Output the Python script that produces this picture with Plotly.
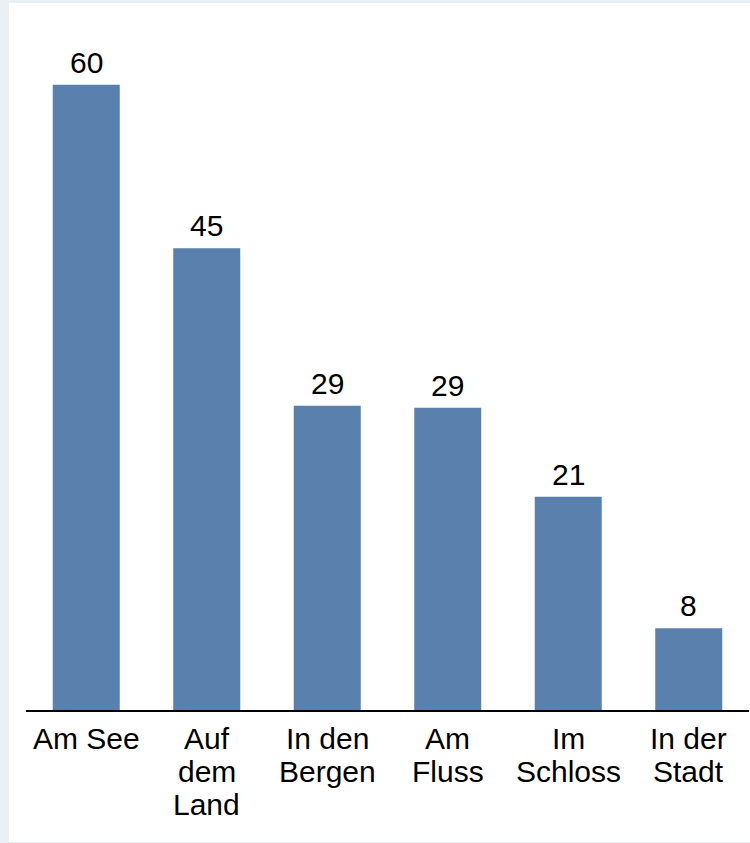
import plotly.graph_objects as go

categories = ["Am See", "Auf dem Land", "In den Bergen", "Am Fluss", "Im Schloss", "In der Stadt"]
values = [60.4, 44.6, 29.4, 29.2, 20.6, 7.9]
tick_lines = [["Am See"], ["Auf", "dem", "Land"], ["In den", "Bergen"], ["Am", "Fluss"],
              ["Im", "Schloss"], ["In der", "Stadt"]]

FONT = "Liberation Sans, Arial, sans-serif"
FS = 30
BAR = "#5a80ae"
BG = "#ebeff6"

fig = go.Figure(go.Bar(
    x=categories, y=values,
    marker=dict(color=BAR, line=dict(width=0)),
    cliponaxis=False, hoverinfo="skip",
))

annotations = []
for cat, v in zip(categories, values):
    annotations.append(dict(
        x=cat, y=v, xref="x", yref="y", text=f"{v:.0f}", showarrow=False,
        yanchor="bottom", xanchor="center", yshift=4,
        font=dict(family=FONT, size=FS, color="#000000"),
    ))
for cat, lines in zip(categories, tick_lines):
    for i, ln in enumerate(lines):
        annotations.append(dict(
            x=cat, y=0, xref="x", yref="y", text=ln, showarrow=False,
            yanchor="top", xanchor="center", yshift=-10 - 33 * i,
            font=dict(family=FONT, size=FS, color="#000000"),
        ))

L, R, T, B = 26, 1, 3, 133
W, H = 750, 843
pw, ph = W - L - R, H - T - B

fig.update_layout(
    width=W, height=H,
    margin=dict(l=L, r=R, t=T, b=B, pad=0),
    paper_bgcolor=BG, plot_bgcolor="white",
    bargap=0.444,
    showlegend=False,
    annotations=annotations,
    shapes=[dict(type="rect", xref="paper", yref="paper",
                 x0=(9 - L) / pw, x1=(W - L) / pw,
                 y0=-(842 - (H - B)) / ph, y1=1.0,
                 fillcolor="white", line=dict(width=0), layer="below")],
    xaxis=dict(showticklabels=False, ticks="", showgrid=False, zeroline=False,
               showline=True, linecolor="#000000", linewidth=1.5, fixedrange=True),
    yaxis=dict(range=[0, 68.3], visible=False, showgrid=False, zeroline=False, fixedrange=True),
)

fig.write_html("out.html", config={"displayModeBar": False},
               post_script="document.body.style.margin='0';document.body.style.padding='0';")
